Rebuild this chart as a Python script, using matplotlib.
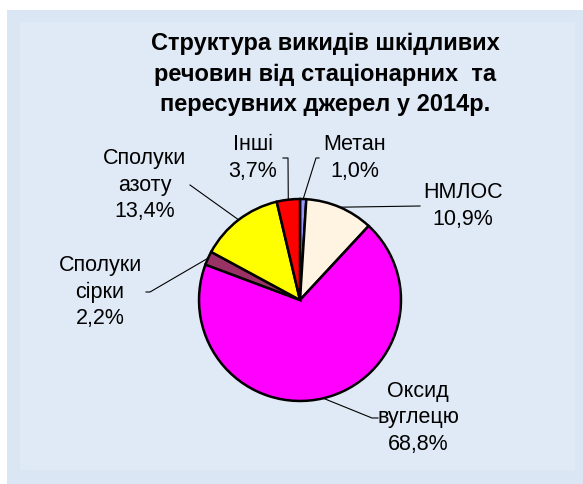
import numpy as np
import matplotlib
matplotlib.use("Agg")
import matplotlib.pyplot as plt
from matplotlib.patches import Rectangle

plt.rcParams['font.family'] = ['Liberation Sans', 'DejaVu Sans']

# ---- data ----
categories = ["Метан", "НМЛОС", "Оксид\nвуглецю", "Сполуки\nсірки", "Сполуки\nазоту", "Інші"]
values = [1.0, 10.9, 68.8, 2.2, 13.4, 3.7]
value_labels = ["1,0%", "10,9%", "68,8%", "2,2%", "13,4%", "3,7%"]
colors = ["#9999FF", "#FFF4E2", "#FF00FF", "#993366", "#FFFF00", "#FF0000"]
title = "Структура викидів шкідливих\nречовин від стаціонарних  та\nпересувних джерел у 2014р."

W, H = 583, 484
fig = plt.figure(figsize=(W / 100, H / 100), dpi=100)
fig.patch.set_facecolor("white")

# background axes in pixel coordinates (y downward)
bg = fig.add_axes([0, 0, 1, 1])
bg.set_xlim(0, W)
bg.set_ylim(H, 0)
bg.axis("off")
bg.add_patch(Rectangle((7, 10), W - 7, H - 10, facecolor="#DAE6F4", edgecolor="none", zorder=0))
bg.add_patch(Rectangle((20, 22), W - 28, H - 36, facecolor="#E0EAF6", edgecolor="none", zorder=0))

# pie axes
cx, cy, r = 300, 300, 103
pax = fig.add_axes([(cx - r) / W, (H - cy - r) / H, 2 * r / W, 2 * r / H])
wedges, _ = pax.pie(values, colors=colors, startangle=90, counterclock=False,
                    wedgeprops=dict(edgecolor="black", linewidth=1.8),
                    radius=1.0)
pax.set_xlim(-1.02, 1.02)
pax.set_ylim(-1.02, 1.02)
pax.set_aspect("equal")
pax.axis("off")
pax.patch.set_alpha(0)

def edge_point(w):
    ang = np.deg2rad((w.theta1 + w.theta2) / 2)
    p = pax.transData.transform((np.cos(ang), np.sin(ang)))
    return bg.transData.inverted().transform(p)

# title
bg.text(325, 74, title, ha="center", va="center", fontsize=17, fontweight="bold",
        linespacing=1.42, color="black")

fs = 15.5
# label text positions (center) and leader line path (after edge point)
label_pos = [(355, 158), (463, 206), (418, 418), (100, 292), (145, 185), (253, 158)]
leader_paths = [
    [(316, 158), (319, 158)],
    [(420, 206)],
    [(372, 418), (378, 418)],
    [(150, 292), (146, 292)],
    [(190, 185)],
    [(288, 158), (283, 158)],
]

for w, cat, vl, pos, path in zip(wedges, categories, value_labels, label_pos, leader_paths):
    txt = cat + "\n" + vl
    bg.text(pos[0], pos[1], txt, ha="center", va="center", fontsize=fs,
            linespacing=1.33, color="black")
    ep = edge_point(w)
    pts = [tuple(ep)] + path
    xs = [p[0] for p in pts]
    ys = [p[1] for p in pts]
    bg.plot(xs, ys, color="black", linewidth=0.8, zorder=5)

fig.savefig("out.png", dpi=100)
